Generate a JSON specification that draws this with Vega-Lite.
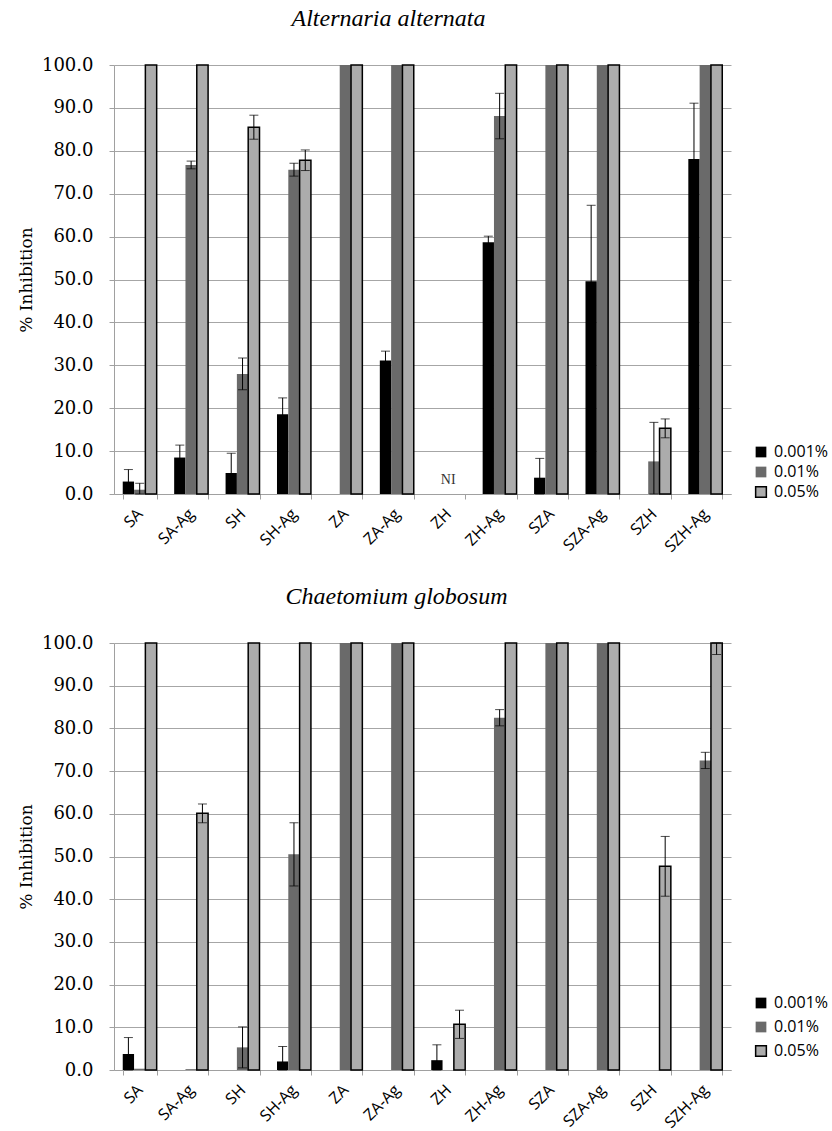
{
  "$schema": "https://vega.github.io/schema/vega-lite/v6.json",
  "background": "white",
  "padding": {"left": 17, "top": 7, "right": 0, "bottom": 5},
  "spacing": 30,
  "config": {
    "view": {"stroke": null},
    "axis": {"grid": false, "domainColor": "#a0a0a0", "tickColor": "#a0a0a0"},
    "axisY": {"grid": true, "gridColor": "#a6a6a6", "values": [0, 10, 20, 30, 40, 50, 60, 70, 80, 90, 100], "format": ".1f", "labelFont": "DejaVu Serif", "labelFontSize": 18, "labelColor": "black", "tickSize": 5, "labelPadding": 16, "titleFont": "DejaVu Serif", "titleFontSize": 17, "titleFontWeight": "normal", "titleColor": "black", "titlePadding": 6},
    "axisX": {"labelAngle": -45, "labelFont": "Open Sans", "labelFontSize": 16, "labelColor": "black", "tickBand": "extent", "tickSize": 5, "labelAlign": "right", "labelBaseline": "middle", "labelPadding": 12},
    "title": {"font": "Liberation Serif", "fontStyle": "italic", "fontSize": 24, "fontWeight": "normal", "color": "black"},
    "legend": {"orient": "none", "title": null, "symbolType": "square", "symbolSize": 115, "labelFont": "Open Sans", "labelFontSize": 16, "labelColor": "black", "labelOffset": 5, "padding": 0, "symbolStrokeWidth": 1.5}
  },
  "resolve": {"scale": {"fill": "independent", "stroke": "independent"}, "legend": {"fill": "independent", "stroke": "independent"}},
  "vconcat": [
    {
      "title": {"text": "Alternaria alternata", "dx": -34, "offset": 25},
      "width": 617,
      "height": 429,
      "data": {"values": [
        {"cat": "SA", "conc": "0.001%", "v": 2.9, "lo": 0.1, "hi": 5.7},
        {"cat": "SA", "conc": "0.01%", "v": 1.0, "lo": 0, "hi": 2.5},
        {"cat": "SA", "conc": "0.05%", "v": 100},
        {"cat": "SA-Ag", "conc": "0.001%", "v": 8.5, "lo": 5.6, "hi": 11.4},
        {"cat": "SA-Ag", "conc": "0.01%", "v": 76.7, "lo": 75.8, "hi": 77.6},
        {"cat": "SA-Ag", "conc": "0.05%", "v": 100},
        {"cat": "SH", "conc": "0.001%", "v": 4.9, "lo": 0.3, "hi": 9.5},
        {"cat": "SH", "conc": "0.01%", "v": 28.0, "lo": 24.3, "hi": 31.7},
        {"cat": "SH", "conc": "0.05%", "v": 85.5, "lo": 82.7, "hi": 88.3},
        {"cat": "SH-Ag", "conc": "0.001%", "v": 18.6, "lo": 14.8, "hi": 22.4},
        {"cat": "SH-Ag", "conc": "0.01%", "v": 75.6, "lo": 74.1, "hi": 77.1},
        {"cat": "SH-Ag", "conc": "0.05%", "v": 77.8, "lo": 75.4, "hi": 80.2},
        {"cat": "ZA", "conc": "0.001%", "v": 0},
        {"cat": "ZA", "conc": "0.01%", "v": 100},
        {"cat": "ZA", "conc": "0.05%", "v": 100},
        {"cat": "ZA-Ag", "conc": "0.001%", "v": 31.1, "lo": 28.9, "hi": 33.3},
        {"cat": "ZA-Ag", "conc": "0.01%", "v": 100},
        {"cat": "ZA-Ag", "conc": "0.05%", "v": 100},
        {"cat": "ZH", "label": "NI", "v": 3.2},
        {"cat": "ZH-Ag", "conc": "0.001%", "v": 58.7, "lo": 57.3, "hi": 60.1},
        {"cat": "ZH-Ag", "conc": "0.01%", "v": 88.1, "lo": 82.8, "hi": 93.4},
        {"cat": "ZH-Ag", "conc": "0.05%", "v": 100},
        {"cat": "SZA", "conc": "0.001%", "v": 3.8, "lo": 0, "hi": 8.3},
        {"cat": "SZA", "conc": "0.01%", "v": 100},
        {"cat": "SZA", "conc": "0.05%", "v": 100},
        {"cat": "SZA-Ag", "conc": "0.001%", "v": 49.6, "lo": 31.9, "hi": 67.3},
        {"cat": "SZA-Ag", "conc": "0.01%", "v": 100},
        {"cat": "SZA-Ag", "conc": "0.05%", "v": 100},
        {"cat": "SZH", "conc": "0.001%", "v": 0},
        {"cat": "SZH", "conc": "0.01%", "v": 7.6, "lo": 0, "hi": 16.7},
        {"cat": "SZH", "conc": "0.05%", "v": 15.3, "lo": 13.1, "hi": 17.5},
        {"cat": "SZH-Ag", "conc": "0.001%", "v": 78.1, "lo": 65.1, "hi": 91.1},
        {"cat": "SZH-Ag", "conc": "0.01%", "v": 100},
        {"cat": "SZH-Ag", "conc": "0.05%", "v": 100}
      ]},
      "encoding": {
        "x": {"field": "cat", "type": "nominal", "title": null, "sort": ["SA", "SA-Ag", "SH", "SH-Ag", "ZA", "ZA-Ag", "ZH", "ZH-Ag", "SZA", "SZA-Ag", "SZH", "SZH-Ag"], "scale": {"paddingInner": 0.34, "paddingOuter": 0.17}}
      },
      "layer": [
        {
          "transform": [{"filter": "datum.conc != null"}],
          "mark": {"type": "bar", "strokeWidth": 1.5},
          "encoding": {
            "xOffset": {"field": "conc", "type": "nominal", "sort": ["0.001%", "0.01%", "0.05%"], "scale": {"paddingInner": 0, "paddingOuter": 0}},
            "y": {"field": "v", "type": "quantitative", "title": "% Inhibition", "scale": {"domain": [0, 100], "nice": false}},
            "fill": {"field": "conc", "type": "nominal", "scale": {"domain": ["0.001%", "0.01%", "0.05%"], "range": ["#000000", "#6a6a6a", "#acacac"]}, "legend": {"legendX": 639, "legendY": 379, "rowPadding": 2}},
            "stroke": {"field": "conc", "type": "nominal", "scale": {"domain": ["0.001%", "0.01%", "0.05%"], "range": ["transparent", "transparent", "#000000"]}, "legend": {"legendX": 639, "legendY": 379, "rowPadding": 2}}
          }
        },
        {
          "transform": [{"filter": "datum.hi != null"}],
          "mark": {"type": "rule", "color": "black", "strokeWidth": 1},
          "encoding": {
            "xOffset": {"field": "conc", "type": "nominal", "sort": ["0.001%", "0.01%", "0.05%"]},
            "y": {"field": "lo", "type": "quantitative", "title": "% Inhibition"},
            "y2": {"field": "hi"}
          }
        },
        {
          "transform": [{"filter": "datum.hi != null"}],
          "mark": {"type": "tick", "color": "black", "thickness": 1, "size": 9},
          "encoding": {
            "xOffset": {"field": "conc", "type": "nominal", "sort": ["0.001%", "0.01%", "0.05%"]},
            "y": {"field": "hi", "type": "quantitative", "title": "% Inhibition"}
          }
        },
        {
          "transform": [{"filter": "datum.hi != null"}],
          "mark": {"type": "tick", "color": "black", "thickness": 1, "size": 9},
          "encoding": {
            "xOffset": {"field": "conc", "type": "nominal", "sort": ["0.001%", "0.01%", "0.05%"]},
            "y": {"field": "lo", "type": "quantitative", "title": "% Inhibition"}
          }
        },
        {
          "transform": [{"filter": "datum.label != null"}],
          "mark": {"type": "text", "font": "Liberation Serif", "fontSize": 14, "color": "#333333"},
          "encoding": {
            "y": {"field": "v", "type": "quantitative", "title": "% Inhibition"},
            "text": {"field": "label"}
          }
        }
      ]
    },
    {
      "title": {"text": "Chaetomium globosum", "dx": -26, "offset": 25},
      "width": 617,
      "height": 427,
      "data": {"values": [
        {"cat": "SA", "conc": "0.001%", "v": 3.75, "lo": 0, "hi": 7.6},
        {"cat": "SA", "conc": "0.01%", "v": 0.3},
        {"cat": "SA", "conc": "0.05%", "v": 100},
        {"cat": "SA-Ag", "conc": "0.001%", "v": 0},
        {"cat": "SA-Ag", "conc": "0.01%", "v": 0.2},
        {"cat": "SA-Ag", "conc": "0.05%", "v": 60.1, "lo": 57.9, "hi": 62.3},
        {"cat": "SH", "conc": "0.001%", "v": 0},
        {"cat": "SH", "conc": "0.01%", "v": 5.3, "lo": 0.5, "hi": 10.1},
        {"cat": "SH", "conc": "0.05%", "v": 100},
        {"cat": "SH-Ag", "conc": "0.001%", "v": 2.0, "lo": 0, "hi": 5.5},
        {"cat": "SH-Ag", "conc": "0.01%", "v": 50.5, "lo": 43.1, "hi": 57.9},
        {"cat": "SH-Ag", "conc": "0.05%", "v": 100},
        {"cat": "ZA", "conc": "0.001%", "v": 0},
        {"cat": "ZA", "conc": "0.01%", "v": 100},
        {"cat": "ZA", "conc": "0.05%", "v": 100},
        {"cat": "ZA-Ag", "conc": "0.001%", "v": 0},
        {"cat": "ZA-Ag", "conc": "0.01%", "v": 100},
        {"cat": "ZA-Ag", "conc": "0.05%", "v": 100},
        {"cat": "ZH", "conc": "0.001%", "v": 2.3, "lo": 0, "hi": 5.9},
        {"cat": "ZH", "conc": "0.01%", "v": 0},
        {"cat": "ZH", "conc": "0.05%", "v": 10.7, "lo": 7.4, "hi": 14.0},
        {"cat": "ZH-Ag", "conc": "0.001%", "v": 0},
        {"cat": "ZH-Ag", "conc": "0.01%", "v": 82.5, "lo": 80.6, "hi": 84.4},
        {"cat": "ZH-Ag", "conc": "0.05%", "v": 100},
        {"cat": "SZA", "conc": "0.001%", "v": 0},
        {"cat": "SZA", "conc": "0.01%", "v": 100},
        {"cat": "SZA", "conc": "0.05%", "v": 100},
        {"cat": "SZA-Ag", "conc": "0.001%", "v": 0},
        {"cat": "SZA-Ag", "conc": "0.01%", "v": 100},
        {"cat": "SZA-Ag", "conc": "0.05%", "v": 100},
        {"cat": "SZH", "conc": "0.001%", "v": 0},
        {"cat": "SZH", "conc": "0.01%", "v": 0},
        {"cat": "SZH", "conc": "0.05%", "v": 47.7, "lo": 40.7, "hi": 54.7},
        {"cat": "SZH-Ag", "conc": "0.001%", "v": 0},
        {"cat": "SZH-Ag", "conc": "0.01%", "v": 72.5, "lo": 70.6, "hi": 74.4},
        {"cat": "SZH-Ag", "conc": "0.05%", "v": 100, "lo": 97.3, "hi": 100}
      ]},
      "encoding": {
        "x": {"field": "cat", "type": "nominal", "title": null, "sort": ["SA", "SA-Ag", "SH", "SH-Ag", "ZA", "ZA-Ag", "ZH", "ZH-Ag", "SZA", "SZA-Ag", "SZH", "SZH-Ag"], "scale": {"paddingInner": 0.34, "paddingOuter": 0.17}}
      },
      "layer": [
        {
          "mark": {"type": "bar", "strokeWidth": 1.5},
          "encoding": {
            "xOffset": {"field": "conc", "type": "nominal", "sort": ["0.001%", "0.01%", "0.05%"], "scale": {"paddingInner": 0, "paddingOuter": 0}},
            "y": {"field": "v", "type": "quantitative", "title": "% Inhibition", "scale": {"domain": [0, 100], "nice": false}},
            "fill": {"field": "conc", "type": "nominal", "scale": {"domain": ["0.001%", "0.01%", "0.05%"], "range": ["#000000", "#6a6a6a", "#acacac"]}, "legend": {"legendX": 639, "legendY": 352, "rowPadding": 6}},
            "stroke": {"field": "conc", "type": "nominal", "scale": {"domain": ["0.001%", "0.01%", "0.05%"], "range": ["transparent", "transparent", "#000000"]}, "legend": {"legendX": 639, "legendY": 352, "rowPadding": 6}}
          }
        },
        {
          "transform": [{"filter": "datum.hi != null"}],
          "mark": {"type": "rule", "color": "black", "strokeWidth": 1},
          "encoding": {
            "xOffset": {"field": "conc", "type": "nominal", "sort": ["0.001%", "0.01%", "0.05%"]},
            "y": {"field": "lo", "type": "quantitative", "title": "% Inhibition"},
            "y2": {"field": "hi"}
          }
        },
        {
          "transform": [{"filter": "datum.hi != null"}],
          "mark": {"type": "tick", "color": "black", "thickness": 1, "size": 9},
          "encoding": {
            "xOffset": {"field": "conc", "type": "nominal", "sort": ["0.001%", "0.01%", "0.05%"]},
            "y": {"field": "hi", "type": "quantitative", "title": "% Inhibition"}
          }
        },
        {
          "transform": [{"filter": "datum.hi != null"}],
          "mark": {"type": "tick", "color": "black", "thickness": 1, "size": 9},
          "encoding": {
            "xOffset": {"field": "conc", "type": "nominal", "sort": ["0.001%", "0.01%", "0.05%"]},
            "y": {"field": "lo", "type": "quantitative", "title": "% Inhibition"}
          }
        }
      ]
    }
  ]
}
